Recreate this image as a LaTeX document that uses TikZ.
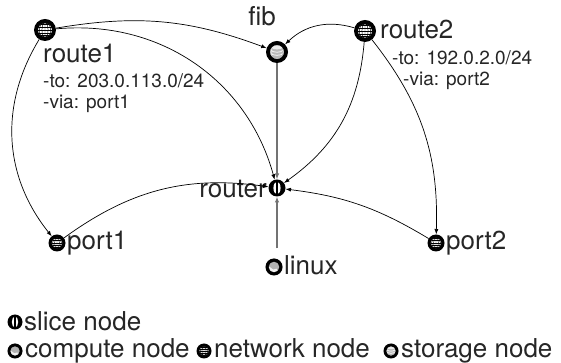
\documentclass[tikz,border=0pt]{standalone}
\usepackage{fontspec}
\setmainfont{TeX Gyre Heros}
\usetikzlibrary{arrows.meta}
\colorlet{pipec}{black!55}
\colorlet{textc}{black!85}
\tikzset{
  icon/.style={circle, inner sep=0pt, outer sep=0pt, minimum size=#1},
  lbl/.style={inner sep=0pt, text=textc, font=\fontsize{26}{30}\selectfont},
  info/.style={inner sep=0pt, text=textc, font=\fontsize{19}{22}\selectfont},
  link/.style={draw=black, line width=0.7pt, -{Latex[length=5.5pt,width=4pt]}},
  pipe/.style={draw=pipec, line width=1.4pt, -{Latex[length=6pt,width=4.5pt]}},
}
% icons: #1 node name, #2 outer radius; the ring is a filled band
\newcommand\ringico[2]{%
  \fill[black, even odd rule] (#1) circle[radius=#2] circle[radius=0.64*#2];
}
\newcommand\netico[2]{%
  \fill[white] (#1) circle[radius=#2];
  \begin{scope}[shift={(#1)}, scale=#2/10, line width=0.45pt]
    \clip (0,0) circle[radius=6.6];
    \draw (-10,0) -- (10,0) (-10,2.8) -- (10,2.8) (-10,-2.8) -- (10,-2.8)
      (-10,5.2) -- (10,5.2) (-10,-5.2) -- (10,-5.2);
    \draw (0,-10) -- (0,10) (0,0) ellipse[x radius=2.8, y radius=6.6]
      (0,0) ellipse[x radius=5.2, y radius=6.6];
  \end{scope}
  \ringico{#1}{#2}
}
\newcommand\storeico[2]{%
  \fill[gray!30] (#1) circle[radius=#2];
  \begin{scope}[shift={(#1)}, scale=#2/10]
    \fill[gray!55] (-5,-4) rectangle (5,4);
    \fill[gray!55] (0,-4) ellipse[x radius=5, y radius=1.6];
    \draw[white, line width=0.7pt] (-5,1.4) arc[start angle=180, end angle=360, x radius=5, y radius=1.6]
      (-5,-1.4) arc[start angle=180, end angle=360, x radius=5, y radius=1.6];
    \fill[gray!15] (0,4) ellipse[x radius=5, y radius=1.6];
  \end{scope}
  \ringico{#1}{#2}
}
\newcommand\compico[2]{%
  \fill[gray!60] (#1) circle[radius=#2];
  \begin{scope}[shift={(#1)}, scale=#2/10]
    \clip (0,0) circle[radius=10];
    \fill[gray!10] (-10,-1) -- (-5,0) -- (-1,-3) -- (3,-2) -- (5,-6) -- (1,-8) -- (-10,-10) -- cycle;
  \end{scope}
  \ringico{#1}{#2}
}
\newcommand\sliceico[2]{%
  \fill[black] (#1) circle[radius=#2];
  \begin{scope}[shift={(#1)}, scale=#2/10]
    \fill[white] (0,0) ellipse[x radius=4.2, y radius=7.4];
    \draw[line width=1.6pt] (0,-8) -- (0,8);
  \end{scope}
}

\begin{document}
\begin{tikzpicture}[x=1pt, y=1pt]
      \useasboundingbox (0,0) rectangle (561,363);

      % Nodes
      \node[icon=22] (route1) at (45,333) {};
      \node[icon=22] (fib) at (277,311) {};
      \node[icon=22] (route2) at (365,332) {};
      \node[icon=17] (router) at (277,175) {};
      \node[icon=17] (port1) at (57,120) {};
      \node[icon=17] (port2) at (436,120) {};
      \node[icon=17] (linux) at (274,96) {};

      % Labels
      \node[lbl, anchor=base west] (route1lbl) at (43,300) {route1};
      \node[info, anchor=base west] (route1to) at (43,275) {-to: 203.0.113.0/24};
      \node[info, anchor=base west] (route1via) at (43,254) {-via: port1};
      \node[lbl, anchor=base] (fiblbl) at (262,337) {fib};
      \node[lbl, anchor=base west] (route2lbl) at (380,324) {route2};
      \node[info, anchor=base west] (route2to) at (392,298) {-to: 192.0.2.0/24};
      \node[info, anchor=base west] (route2via) at (403,277) {-via: port2};
      \node[lbl, anchor=base east] (routerlbl) at (267,165) {router};
      \node[lbl, anchor=base west] (port1lbl) at (67,113) {port1};
      \node[lbl, anchor=base west] (port2lbl) at (446,113) {port2};
      \node[lbl, anchor=base west] (linuxlbl) at (284,88) {linux};

      % Edges
      \draw[link] (route1) to[bend left=15] (fib);
      \draw[link] (route1) to[bend left=40] (router);
      \draw[link] (route1) to[bend right=35] (port1);
      \draw[link] (route2) to[bend right=30] (fib);
      \draw[link] (route2) to[bend left=25] (router);
      \draw[link] (route2) to[bend left=20] (port2);
      \draw[link] (port1) to[bend left=22] (router);
      \draw[link] (port2) to[bend right=12] (router);
      \draw[pipe] (fib) -- (router);
      \draw[pipe, shorten <=10pt] (linux.north -| router) -- (router);

      % Icons
      \foreach \n/\r in {route1/11, route2/11, port1/8.5, port2/8.5}
        {\netico{\n}{\r}}
      \storeico{fib}{11}
      \sliceico{router}{8.5}
      \compico{linux}{8.5}

      % Legend
      \node[icon=15] (keyslice) at (15,41) {};
      \node[lbl, anchor=base west] (keyslicelbl) at (24,32) {slice node};
      \node[icon=15] (keycomp) at (15,12) {};
      \node[lbl, anchor=base west] (keycomplbl) at (25,5) {compute node};
      \node[icon=15] (keynet) at (204,12) {};
      \node[lbl, anchor=base west] (keynetlbl) at (214,5) {network node};
      \node[icon=15] (keystore) at (391,12) {};
      \node[lbl, anchor=base west] (keystorelbl) at (401,5) {storage node};
      \sliceico{keyslice}{7.5}
      \compico{keycomp}{7.5}
      \netico{keynet}{7.5}
      \storeico{keystore}{7.5}
    \end{tikzpicture}
\end{document}
